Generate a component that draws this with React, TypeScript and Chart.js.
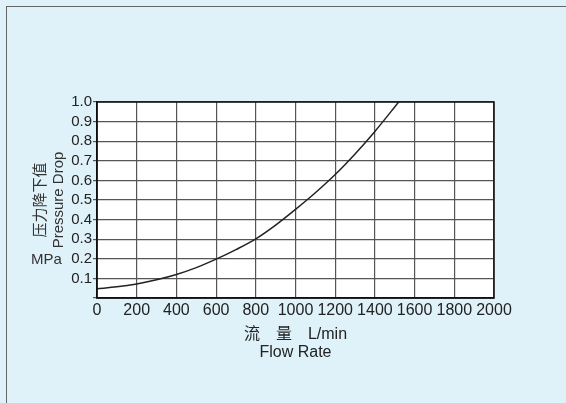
import React, { useEffect, useRef } from "react";
import { Chart, registerables } from "chart.js";

Chart.register(...registerables);

const flowRate = [0, 100, 200, 300, 400, 500, 600, 700, 800, 900, 1000, 1100, 1200, 1300, 1400, 1520];
const pressureDrop = [0.047, 0.057, 0.072, 0.093, 0.12, 0.155, 0.198, 0.247, 0.302, 0.372, 0.452, 0.537, 0.63, 0.735, 0.85, 1.0];

const xTitle = ["流　量　L/min", "Flow Rate"];
const yTitle = ["压力降下值", "Pressure Drop"];
const unitLabel = "MPa";

const FONT = "'Liberation Sans', Arial, 'Noto Sans CJK SC', sans-serif";

export default function App() {
  const canvasRef = useRef<HTMLCanvasElement | null>(null);

  useEffect(() => {
    const canvas = canvasRef.current;
    if (!canvas) return;
    const chart = new Chart(canvas, {
      type: "line",
      data: {
        datasets: [
          {
            data: flowRate.map((x, i) => ({ x, y: pressureDrop[i] })),
            borderColor: "#222",
            borderWidth: 1.5,
            pointRadius: 0,
            fill: false,
            cubicInterpolationMode: "monotone",
          },
        ],
      },
      options: {
        animation: false,
        responsive: false,
        events: [],
        layout: { padding: { top: 102, right: 72, left: 0, bottom: 0 } },
        plugins: { legend: { display: false }, tooltip: { enabled: false } },
        scales: {
          x: {
            type: "linear",
            min: 0,
            max: 2000,
            afterFit: (s: any) => {
              s.height = 105;
            },
            ticks: {
              stepSize: 200,
              color: "#222",
              padding: 3,
              maxRotation: 0,
              autoSkip: false,
              font: { family: FONT, size: 16 },
              callback: (v: any) => String(v),
            },
            grid: { color: "#555", lineWidth: 1.2, drawTicks: false },
            border: { color: "#111", width: 1.5 },
            title: {
              display: true,
              text: xTitle,
              color: "#222",
              padding: { top: 0, bottom: 41 },
              font: { family: FONT, size: 16, lineHeight: 1.15 },
            },
          },
          y: {
            type: "linear",
            min: 0,
            max: 1.0,
            afterFit: (s: any) => {
              s.width = 97;
            },
            ticks: {
              stepSize: 0.1,
              autoSkip: false,
              color: "#222",
              padding: 1,
              font: { family: FONT, size: 15 },
              callback: (v: any) => (Math.abs(Number(v)) < 1e-9 ? "" : Number(v).toFixed(1)),
            },
            grid: { color: "#555", lineWidth: 1.2, tickLength: 4 },
            border: { color: "#111", width: 1.5 },
            title: {
              display: true,
              text: yTitle,
              color: "#333",
              padding: { top: 32, bottom: 0 },
              font: { family: FONT, size: 15, lineHeight: 1.2 },
            },
          },
        },
      },
      plugins: [
        {
          id: "plotBg",
          beforeDraw: (c: any) => {
            const { ctx, chartArea } = c;
            ctx.save();
            ctx.fillStyle = "#ffffff";
            ctx.fillRect(chartArea.left, chartArea.top, chartArea.right - chartArea.left, chartArea.bottom - chartArea.top);
            ctx.restore();
          },
        },
        {
          id: "frameTop",
          afterDraw: (c: any) => {
            const { ctx, chartArea } = c;
            ctx.save();
            ctx.strokeStyle = "#111";
            ctx.lineWidth = 1.5;
            ctx.strokeRect(chartArea.left, chartArea.top, chartArea.right - chartArea.left, chartArea.bottom - chartArea.top);
            ctx.restore();
          },
        },
      ],
    });
    return () => chart.destroy();
  }, []);

  return (
    <div
      style={{
        position: "absolute",
        left: 0,
        top: 0,
        width: 566,
        height: 403,
        background: "#dff2fa",
        overflow: "hidden",
      }}
    >
      <div
        style={{
          position: "absolute",
          left: 6,
          top: 6,
          right: -4,
          bottom: -4,
          borderLeft: "1.5px solid #666",
          borderTop: "1.5px solid #666",
        }}
      />
      <canvas ref={canvasRef} width={566} height={403} style={{ position: "absolute", left: 0, top: 0 }} />
      <div
        style={{
          position: "absolute",
          left: 31,
          top: 250,
          fontFamily: FONT,
          fontSize: 15,
          color: "#333",
          lineHeight: "18px",
        }}
      >
        {unitLabel}
      </div>
    </div>
  );
}
